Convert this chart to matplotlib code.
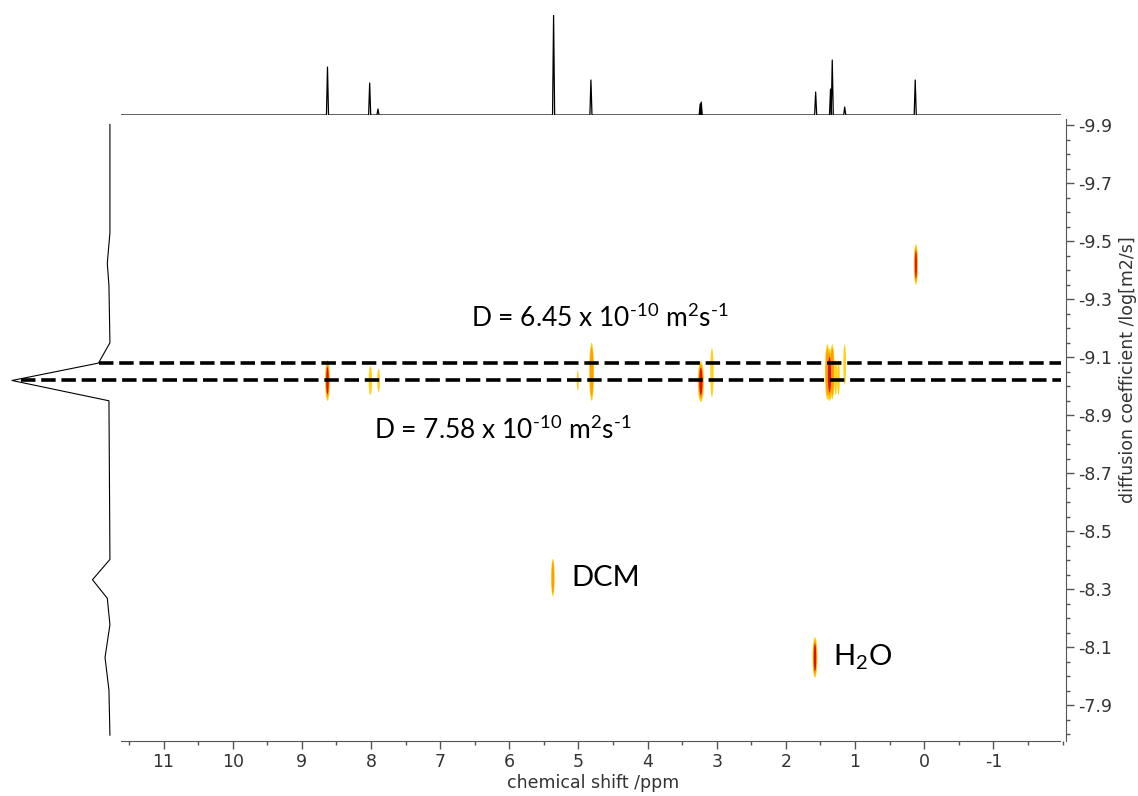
import matplotlib
matplotlib.use('Agg')
import matplotlib.pyplot as plt
from matplotlib.patches import Ellipse
from matplotlib.ticker import MultipleLocator

# 1D proton spectrum on top (ppm, relative height)
top_ppm = [8.63, 8.02, 7.90, 5.36, 4.82, 3.24, 3.225, 1.57, 1.355, 1.33, 1.15, 0.13]
top_int = [0.48, 0.32, 0.06, 1.00, 0.35, 0.11, 0.13, 0.23, 0.26, 0.55, 0.08, 0.35]

# diffusion projection on the left (log D, relative intensity)
proj_logd = [-9.903, -9.53, -9.424, -9.347, -9.15, -9.08, -9.02, -8.95,
             -8.403, -8.333, -8.269, -8.178, -8.065, -7.952, -7.797]
proj_int = [0.0, 0.0, 0.027, 0.01, 0.0, 0.117, 1.0, 0.01,
            0.0, 0.178, 0.027, 0.0, 0.05, 0.01, 0.0]

# 2D DOSY cross peaks: shift, log D, ppm width, log D extent, contour levels
peak_ppm = [8.63, 8.01, 7.89, 5.01, 4.81, 3.23, 3.07,
            1.40, 1.37, 1.33, 1.28, 1.24, 1.15, 0.12, 5.37, 1.58]
peak_logd = [-9.02, -9.02, -9.02, -9.02, -9.05, -9.016, -9.047,
             -9.05, -9.04, -9.05, -9.03, -9.03, -9.075, -9.42, -8.34, -8.065]
peak_w = [0.07, 0.05, 0.04, 0.03, 0.07, 0.09, 0.05,
          0.07, 0.09, 0.07, 0.04, 0.04, 0.04, 0.06, 0.05, 0.07]
peak_h = [0.14, 0.10, 0.08, 0.07, 0.20, 0.14, 0.17,
          0.19, 0.18, 0.19, 0.12, 0.12, 0.14, 0.14, 0.13, 0.14]
peak_level = [3, 1, 1, 1, 2, 3, 1,
              2, 3, 2, 1, 1, 1, 3, 2, 3]

# diffusion coefficients marked with dashed lines
line_logd = [-9.08, -9.02]

xtick_vals = [11, 10, 9, 8, 7, 6, 5, 4, 3, 2, 1, 0, -1]
xtick_labels = ['11', '10', '9', '8', '7', '6', '5', '4', '3', '2', '1', '0', '-1']
ytick_vals = [-9.9, -9.7, -9.5, -9.3, -9.1, -8.9, -8.7, -8.5, -8.3, -8.1, -7.9]
ytick_labels = ['-9.9', '-9.7', '-9.5', '-9.3', '-9.1', '-8.9', '-8.7', '-8.5', '-8.3', '-8.1', '-7.9']

level_colors = ['#ffd21a', '#ff9f00', '#e01010']
level_scale = [(1.0, 1.0), (0.75, 0.85), (0.5, 0.68)]

plt.rcParams['font.family'] = 'DejaVu Sans'
plt.rcParams['mathtext.fontset'] = 'custom'
plt.rcParams['mathtext.rm'] = 'Lato'
plt.rcParams['mathtext.default'] = 'regular'

XLIM = (11.62, -2.05)
YLIM = (-7.778, -9.92)
grey = '#555555'

fig = plt.figure(figsize=(11.38, 7.96), dpi=100)
ax = fig.add_axes([0.1061, 0.0695, 0.8306, 0.7804])
ax_top = fig.add_axes([0.1061, 0.8555, 0.8306, 0.1256])
ax_left = fig.add_axes([0.0105, 0.0695, 0.0861, 0.7804])

# main 2D plot
for p, d, w, h, lev in zip(peak_ppm, peak_logd, peak_w, peak_h, peak_level):
    for k in range(lev):
        sw, sh = level_scale[k]
        ax.add_patch(Ellipse((p, d), w * sw, h * sh, facecolor=level_colors[k],
                             edgecolor='none', zorder=2 + k))

ax.axhline(line_logd[0], xmin=-0.0235, xmax=0.995, color='black', lw=2.6,
           dashes=(4, 1.6), clip_on=False, zorder=6)
ax.axhline(line_logd[1], xmin=-0.106, xmax=0.995, color='black', lw=2.6,
           dashes=(4, 1.6), clip_on=False, zorder=6)

ax.set_xlim(*XLIM)
ax.set_ylim(*YLIM)
ax.spines['top'].set_visible(False)
ax.spines['left'].set_visible(False)
ax.spines['bottom'].set_bounds(11.62, -1.97)
ax.spines['bottom'].set_color(grey)
ax.spines['right'].set_color(grey)
ax.yaxis.tick_right()
ax.yaxis.set_label_position('right')
ax.set_xticks(xtick_vals, xtick_labels)
ax.set_yticks(ytick_vals, ytick_labels)
ax.xaxis.set_minor_locator(MultipleLocator(0.5))
ax.yaxis.set_minor_locator(MultipleLocator(0.05))
ax.tick_params(which='major', length=6, width=1, color=grey, labelcolor='#333333',
               labelsize=12.5)
ax.tick_params(which='minor', length=3, width=1, color=grey)
ax.tick_params(axis='y', pad=2.5)
ax.tick_params(axis='x', pad=3)
ax.set_xlabel('chemical shift /ppm', fontsize=12.5, color='#333333', labelpad=2)
ax.set_ylabel('diffusion coefficient /log[m2/s]', fontsize=12.5, color='#333333')
ax.yaxis.set_label_coords(1.056, 0.598)

ax.text(6.56, -9.234, r'D = 6.45 x 10$^{\text{-10}}$ m$^{2}$s$^{\text{-1}}$', fontsize=19,
        family='Lato', ha='left', va='center')
ax.text(7.96, -8.849, r'D = 7.58 x 10$^{\text{-10}}$ m$^{2}$s$^{\text{-1}}$', fontsize=19,
        family='Lato', ha='left', va='center')
ax.text(5.11, -8.34, 'DCM', fontsize=21, family='Lato', ha='left', va='center')
ax.text(1.32, -8.065, r'H$_{2}$O', fontsize=21, family='Lato', ha='left', va='center')

# top 1D spectrum
xs = [XLIM[0]]
ys = [0.0]
hw = 0.015
for p, i in sorted(zip(top_ppm, top_int), reverse=True):
    xs += [p + hw, p, p - hw]
    ys += [0.0, i, 0.0]
xs.append(-1.97)
ys.append(0.0)
ax_top.plot(xs, ys, color='black', lw=0.9)
ax_top.set_xlim(*XLIM)
ax_top.set_ylim(0, 1.0)
ax_top.axis('off')

# left projection
ax_left.plot(proj_int, proj_logd, color='black', lw=0.8, clip_on=False)
ax_left.set_xlim(1.0, 0.0)
ax_left.set_ylim(*YLIM)
ax_left.axis('off')

fig.savefig('out.png', dpi=100)
